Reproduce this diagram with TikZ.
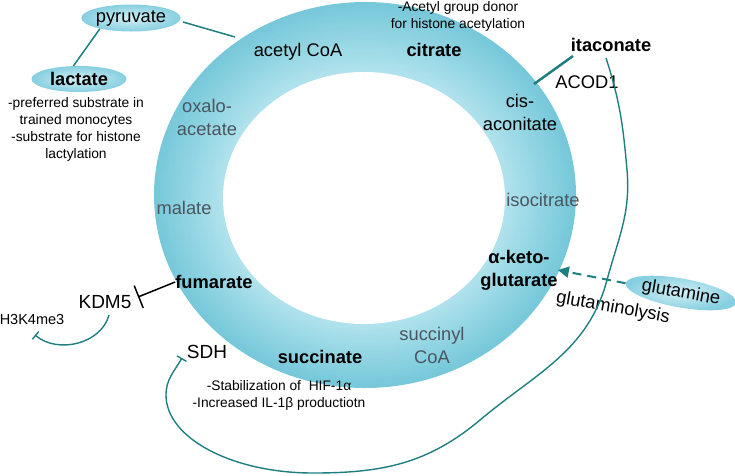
\documentclass[tikz,border=0pt]{standalone}
\usepackage{fontspec}
\setmainfont{Liberation Sans}
\usetikzlibrary{arrows.meta,shapes.geometric,calc}
\definecolor{teal1}{HTML}{1F7F80}
\definecolor{ringout}{HTML}{76C8DA}
\definecolor{ringin}{HTML}{B2E3ED}
\definecolor{graytxt}{HTML}{4A5560}
\definecolor{ellin}{HTML}{D2F0F6}
\definecolor{ellout}{HTML}{86CFE0}
\begin{document}
\begin{tikzpicture}[x=1pt,y=1pt,
  big/.style={font=\fontsize{18.3}{23}\selectfont, text=black, inner sep=0pt, align=center},
  bigb/.style={big, font=\fontsize{18.3}{23}\selectfont\bfseries},
  grey/.style={big, text=graytxt},
  small/.style={font=\fontsize{13.8}{17}\selectfont, inner sep=0pt, align=center},
  metab/.style={ellipse, shade, inner color=ellin, outer color=ellout, minimum width=95pt, minimum height=27pt, inner sep=0pt, font=\fontsize{18.3}{21}\selectfont},
  link/.style={draw=teal1, line width=1.5pt},
  ]
\useasboundingbox (0,0) rectangle (735,-475);
% ring
\foreach \i in {0,...,24} {
  \pgfmathsetmacro\t{\i/24}
  \pgfmathsetmacro\cx{365-\t*1}
  \pgfmathsetmacro\cy{-195-\t*3}
  \pgfmathsetmacro\rx{211-\t*70}
  \pgfmathsetmacro\ry{193-\t*67}
  \pgfmathsetmacro\pc{\t*100}
  \fill[ringin!\pc!ringout] (\cx,\cy) ellipse [x radius=\rx, y radius=\ry];
}
\fill[white] (364,-198) ellipse [x radius=141, y radius=126];

% nodes
\node[metab] (pyr) at (131,-18) {pyruvate};
\node[metab, minimum height=26pt] (lac) at (79,-79) {\bfseries lactate};
\node[small] (lacnote) at (76,-129) {-preferred substrate in\\trained monocytes\\-substrate for histone\\lactylation};
\node[big] (acoa) at (298,-52) {acetyl CoA};
\node[bigb] (cit) at (434,-50) {citrate};
\node[small] (citnote) at (458,-16) {-Acetyl group donor\\for histone acetylation};
\node[bigb] (ita) at (611,-45) {itaconate};
\node[big] (acod) at (587,-82) {ACOD1};
\node[big] (cis) at (520,-112) {cis-\\aconitate};
\node[grey] (oxa) at (207,-117) {oxalo-\\acetate};
\node[grey] (mal) at (184,-208) {malate};
\node[grey] (iso) at (543,-200) {isocitrate};
\node[bigb] (akg) at (519,-270) {α-keto-\\glutarate};
\node[bigb] (fum) at (214,-282) {fumarate};
\node[bigb] (suc) at (320,-357) {succinate};
\node[grey] (sco) at (432,-345) {succinyl\\CoA};
\node[small] (sucnote) at (279,-395) {-Stabilization of~~HIF-1α\\-Increased IL-1β productiotn};
\node[big, font=\fontsize{19}{22}\selectfont] (kdm) at (105,-302) {KDM5};
\node[small, font=\fontsize{14.5}{17}\selectfont] (h3) at (32,-319) {H3K4me3};
\node[big, font=\fontsize{19}{22}\selectfont] (sdh) at (207,-352) {SDH};
\node[metab, rotate=-10, minimum width=108pt, minimum height=29pt] (gln) at (681,-293) {glutamine};
\node[big, rotate=-10] (glnlys) at (613,-308) {glutaminolysis};

% coordinates for free ends
\coordinate (pyrR) at (183,-22);
\coordinate (ringA) at (235,-37);
\coordinate (itaS) at (573,-56);
\coordinate (ringB) at (534,-84);
\coordinate (itaC) at (606,-58);
\coordinate (sdhT) at (182,-358);
\coordinate (kdmS) at (109,-315);
\coordinate (h3T) at (35,-335);
\coordinate (kbar) at (138,-297);

% connectors
\draw[link] (pyr.199) -- (lac.113);
\draw[link] (pyrR) -- (ringA);
\draw[draw=teal1, line width=2.5pt] (itaS) -- (ringB);
\draw[link, line width=1.4pt, -{Bar[width=11pt]}] (itaC) to[out=-72,in=95] (627,-170)
   to[out=-85,in=75] (607,-280) to[out=-105,in=40] (480,-420)
   to[out=-140,in=0] (313,-473) .. controls (232,-473) and (166,-438) .. (166,-395)
   to[out=90,in=-120] (sdhT);
\draw[line width=1.5pt, -{Bar[width=24pt]}] (fum.west) -- (kbar);
\draw[link, line width=1.4pt, -{Bar[width=10pt]}] (kdmS) to[out=-105,in=-40] (h3T);
\draw[teal1, line width=2pt, dash pattern=on 9pt off 6pt, -{Triangle[length=11pt,width=11pt]}] (gln.west) -- (akg.east);
\end{tikzpicture}
\end{document}
